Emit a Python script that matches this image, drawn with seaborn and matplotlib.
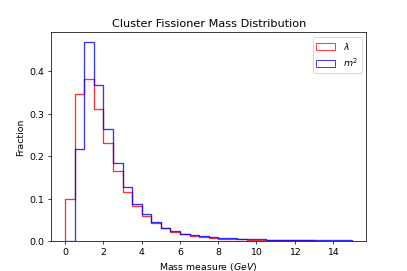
import matplotlib
matplotlib.use("Agg")
import matplotlib.pyplot as plt
import seaborn as sns
from matplotlib.patches import Patch

# bin edges 0..15 in steps of 0.5 GeV
bin_edges = [i * 0.5 for i in range(31)]

# fraction per bin
lambda_frac = [0.099, 0.347, 0.381, 0.311, 0.231, 0.165, 0.116, 0.082, 0.059, 0.042,
               0.031, 0.022, 0.016, 0.012, 0.009, 0.007, 0.006, 0.005, 0.0042, 0.0036,
               0.0031, 0.0027, 0.0024, 0.0021, 0.0019, 0.0017, 0.0015, 0.0014, 0.0013, 0.0012]
m2_frac = [0.0, 0.218, 0.469, 0.369, 0.265, 0.184, 0.128, 0.088, 0.063, 0.044,
           0.032, 0.024, 0.018, 0.014, 0.011, 0.009, 0.0075, 0.0063, 0.0053, 0.0045,
           0.0039, 0.0034, 0.003, 0.0027, 0.0024, 0.0022, 0.002, 0.0018, 0.0017, 0.0016]

series = [("$\\lambda$", lambda_frac, "red"), ("$m^2$", m2_frac, "blue")]

fig, ax = plt.subplots(figsize=(6, 4), dpi=67.85)

handles = []
for label, frac, color in series:
    # step outline: up from zero at the first edge, down to zero at the last
    xs = [bin_edges[0]] + bin_edges + [bin_edges[-1]]
    ys = [0] + frac + [frac[-1], 0]
    sns.lineplot(x=xs, y=ys, estimator=None, sort=False, drawstyle="steps-post",
                 color=color, alpha=0.8, linewidth=1.4, ax=ax)
    handles.append(Patch(fill=False, edgecolor=color, alpha=0.8, label=label))

ax.set_ylim(0, None)
ax.set_title("Cluster Fissioner Mass Distribution")
ax.set_xlabel("Mass measure ($GeV$)")
ax.set_ylabel("Fraction")
ax.legend(handles=handles, loc="upper right")

plt.savefig("out.png")
plt.close()
